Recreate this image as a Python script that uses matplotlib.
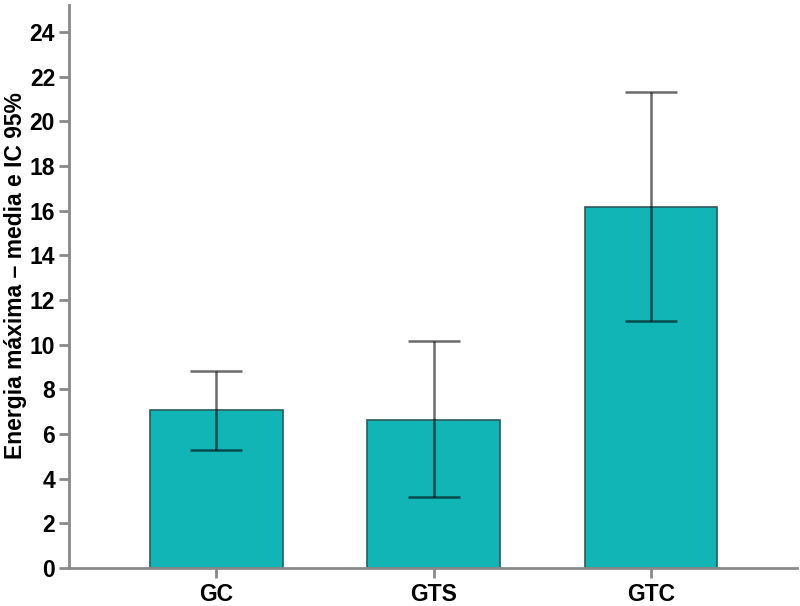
import numpy as np
import matplotlib.pyplot as plt

plt.rcParams['font.family'] = ['Liberation Sans', 'DejaVu Sans']

# data
groups = ['GC', 'GTS', 'GTC']
media = [7.06, 6.61, 16.18]
ic_low = [5.27, 3.17, 11.04]
ic_high = [8.80, 10.15, 21.32]

yerr = np.array([[m - lo for m, lo in zip(media, ic_low)],
                 [hi - m for m, hi in zip(media, ic_high)]])

fig = plt.figure(figsize=(8, 6.06), dpi=100)
ax = fig.add_axes([0.08625, 0.0627, 0.9097, 0.929])

x = np.arange(len(groups))
ax.bar(x, media, width=0.61, color='#12b5b5', edgecolor='#2e5a5a', linewidth=1.2,
       zorder=2)
ax.errorbar(x, media, yerr=yerr, fmt='none', ecolor=(0, 0, 0, 0.58), elinewidth=1.8,
            capsize=19, capthick=1.8, zorder=3)

ax.set_xlim(-0.677, 2.67)
ax.set_ylim(0, 25.2)
ax.set_yticks(range(0, 25, 2))
ax.set_xticks(x)
ax.set_xticklabels(groups)

for s in ['top', 'right']:
    ax.spines[s].set_visible(False)
for s in ['left', 'bottom']:
    ax.spines[s].set_color('#8a8a8a')
    ax.spines[s].set_linewidth(2)

ax.tick_params(axis='both', colors='#8a8a8a', width=2, length=7, direction='out')
for lab in ax.get_xticklabels() + ax.get_yticklabels():
    lab.set_color('black')
    lab.set_fontweight('bold')
    lab.set_fontsize(16.5)
ax.tick_params(axis='x', pad=4)
ax.tick_params(axis='y', pad=3)

ax.set_ylabel('Energia máxima – media e IC 95%', fontsize=16.5, fontweight='bold',
              labelpad=2)
ax.yaxis.label.set_y(0.52)

plt.savefig('out.png', dpi=100)
